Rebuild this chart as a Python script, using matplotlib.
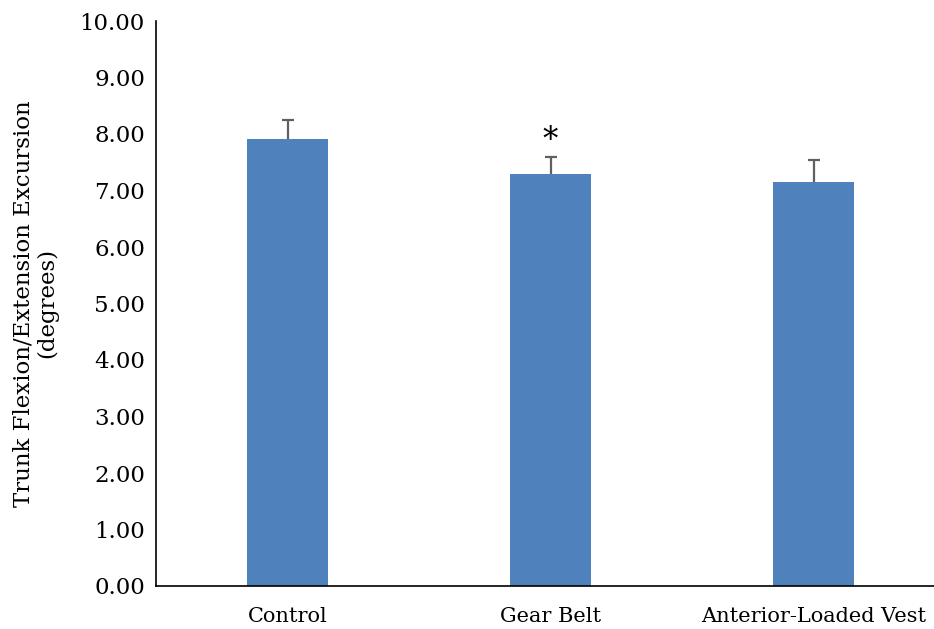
import matplotlib
matplotlib.use("Agg")
import matplotlib.pyplot as plt

categories = ["Control", "Gear Belt", "Anterior-Loaded Vest"]
means = [7.92, 7.29, 7.15]
errors = [0.33, 0.30, 0.39]
yticks = [0, 1, 2, 3, 4, 5, 6, 7, 8, 9, 10]

plt.rcParams['font.family'] = ['DejaVu Serif']

fig = plt.figure(figsize=(9.34, 6.29), dpi=100)
ax = fig.add_axes([156/934, 43/629, 789/934, 565/629])
x = list(range(len(categories)))
tops = [m + e for m, e in zip(means, errors)]
ax.bar(x, means, width=0.31, color="#4F81BD", zorder=2)
ax.vlines(x, means, tops, colors="#606060", linewidth=1.6, zorder=3)
ax.plot(x, tops, linestyle="none", marker="_", markersize=9, markeredgewidth=1.6,
        color="#606060", zorder=3)
ax.text(1, tops[1] + 0.3, "*", ha="center", va="center", fontsize=22)
ax.set_xlim(-0.5, 2.5)
ax.set_ylim(0, 10)
ax.set_yticks(yticks)
ax.set_yticklabels([f"{v:.2f}" for v in yticks], fontsize=16.5)
ax.set_xticks(x)
ax.set_xticklabels(categories, fontsize=15)
ax.tick_params(axis="y", length=0, pad=8)
ax.tick_params(axis="x", length=0, pad=15)
ax.spines["top"].set_visible(False)
ax.spines["right"].set_visible(False)
ax.spines["left"].set_linewidth(1.2)
ax.spines["bottom"].set_linewidth(1.2)
ax.set_ylabel("Trunk Flexion/Extension Excursion\n(degrees)", fontsize=16.5, linespacing=1.1)
ax.yaxis.set_label_coords(-0.124, 0.5)
fig.savefig("out.png", dpi=100)
